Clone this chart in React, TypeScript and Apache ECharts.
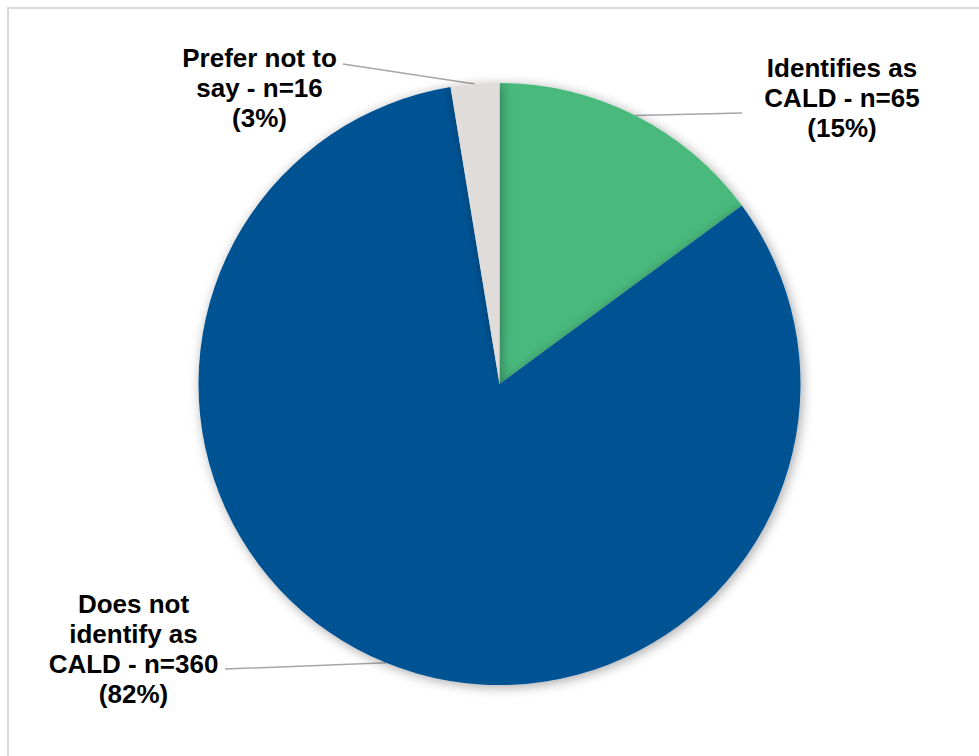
import React, { useEffect, useRef } from "react";
import * as echarts from "echarts";

const categories = ["Identifies as CALD", "Does not identify as CALD", "Prefer not to say"];
const counts = [65, 360, 16];
const percents = [15, 82, 3];
// slice shares as drawn in the picture
const sliceShares = [14.9, 82.5, 2.6];
const labelLinesText = [
  ["Identifies as", `CALD - n=${counts[0]}`, `(${percents[0]}%)`],
  ["Does not", "identify as", `CALD - n=${counts[1]}`, `(${percents[1]}%)`],
  ["Prefer not to", `say - n=${counts[2]}`, `(${percents[2]}%)`],
];
const colors = ["#48B97C", "#005293", "#E0DCD9"];
const labelCenters = [
  [842, 98],
  [133.5, 649],
  [259.5, 88],
];
const leaderEnds = [
  [742, 113],
  [225, 669],
  [343, 64],
];

export default function App() {
  const ref = useRef<HTMLDivElement>(null);
  useEffect(() => {
    if (!ref.current) return;
    const chart = echarts.init(ref.current, null, { renderer: "svg" });
    chart.setOption({
      animation: false,
      backgroundColor: "#ffffff",
      graphic: [
        {
          type: "rect",
          shape: { x: 8, y: 8, width: 1200, height: 1200 },
          style: { fill: "none", stroke: "#D9D9D9", lineWidth: 2 },
          silent: true,
        },
      ],
      series: [
        {
          type: "pie",
          center: [499.5, 384],
          radius: [0, 301],
          startAngle: 90,
          clockwise: true,
          data: categories.map((c, i) => ({
            name: c,
            value: sliceShares[i],
            itemStyle: { color: colors[i] },
            label: { formatter: labelLinesText[i].join("\n") },
          })),
          itemStyle: {
            shadowBlur: 12,
            shadowColor: "rgba(0,0,0,0.35)",
            shadowOffsetX: 2,
            shadowOffsetY: 2,
            borderWidth: 0,
          },
          label: {
            show: true,
            position: "outside",
            fontFamily: "Liberation Sans",
            fontWeight: "bold",
            fontSize: 26,
            lineHeight: 30,
            color: "#000000",
            align: "center",
          },
          labelLine: {
            show: true,
            length: 20,
            length2: 20,
            lineStyle: { color: "#A6A6A6", width: 1.5 },
          },
          labelLayout: (params: any) => {
            const i = params.dataIndex;
            const p = labelCenters[i];
            const start = params.labelLinePoints
              ? params.labelLinePoints[0]
              : leaderEnds[i];
            const end = leaderEnds[i];
            const mid = [(start[0] + end[0]) / 2, (start[1] + end[1]) / 2];
            return {
              x: p[0],
              y: p[1],
              align: "center",
              verticalAlign: "middle",
              labelLinePoints: [start, mid, end],
            };
          },
        },
      ],
    });
    return () => chart.dispose();
  }, []);
  return (
    <div
      ref={ref}
      style={{ position: "absolute", left: 0, top: 0, width: 979, height: 756 }}
    />
  );
}
